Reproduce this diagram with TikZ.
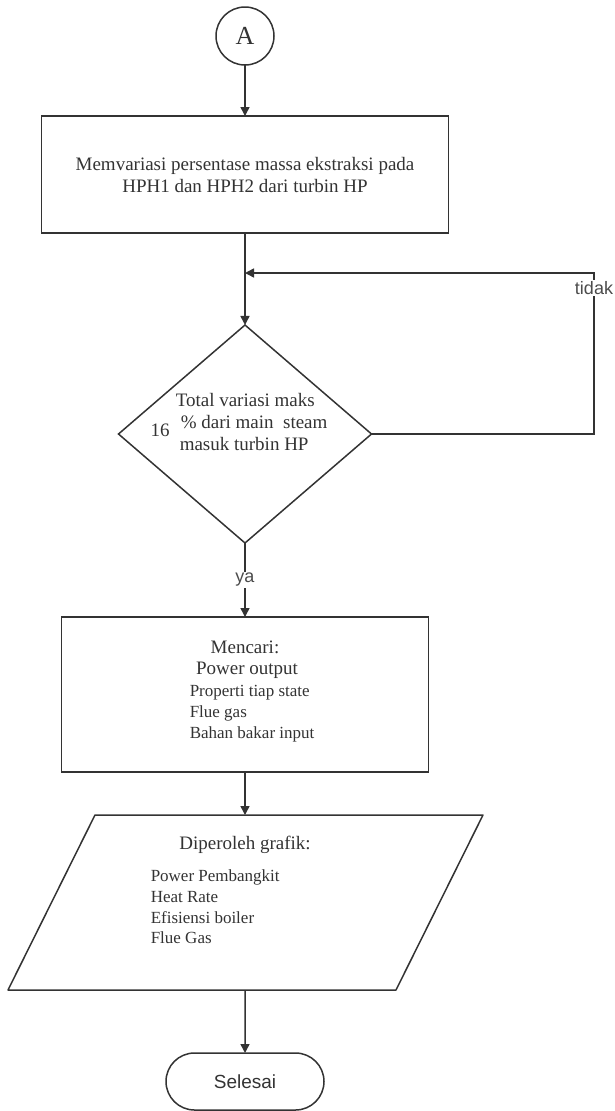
\documentclass[tikz,border=0pt]{standalone}
\usepackage{fontspec}
\setmainfont{Liberation Serif}
\newfontfamily\arialfont{Liberation Sans}
\usetikzlibrary{shapes.geometric,shapes.misc,arrows.meta}

\begin{document}
\begin{tikzpicture}[x=1pt,y=-1pt,line width=1.5pt,color=black!80,
  box/.style={draw,rectangle,inner sep=0pt,outer sep=0pt},
  txt/.style={font=\fontsize{19}{22}\selectfont,inner sep=0pt},
  sml/.style={font=\fontsize{17}{21}\selectfont,align=left,anchor=west,inner sep=0pt},
  lbl/.style={font=\arialfont\fontsize{18}{20}\selectfont,text=black!70,fill=white,inner sep=1.5pt},
  arr/.style={-{Triangle[width=9pt,length=9pt]}}]
\useasboundingbox (0,0) rectangle (614,1111);
\node[draw,circle,minimum size=58pt,inner sep=0pt,outer sep=0pt,font=\fontsize{26}{26}\selectfont] (a) at (245,36) {A};
\node[box,txt,align=center,minimum width=407pt,minimum height=117pt] (variasi) at (245,174.5) {Memvariasi persentase massa ekstraksi pada\\HPH1 dan HPH2 dari turbin HP};
\node[draw,diamond,minimum width=253pt,minimum height=218pt,inner sep=0pt,outer sep=0pt] (cek) at (245,434) {};
\node[txt,align=left,anchor=west] (cektxt) at (175,422) {Total variasi maks\\\hspace*{5pt}\% dari main\ \ steam\\\hspace*{4pt}masuk turbin HP};
\node[txt] (batas) at (160,430) {16};
\node[box,minimum width=367pt,minimum height=155pt] (cari) at (245,694.5) {};
\node[txt] (caritxt) at (245,647) {Mencari:};
\node[txt] (power) at (247,670) {Power output};
\node[sml] (carilist) at (189,714) {Properti tiap state\\Flue gas\\Bahan bakar input};
\coordinate (grafikatas) at (245,815);
\coordinate (grafikbawah) at (245,990);
\draw[line join=round] (95,815) -- (483,815) -- (396,990) -- (8,990) -- cycle;
\node[txt] (grafiktxt) at (245,845) {Diperoleh grafik:};
\node[sml,font=\fontsize{17}{20.7}\selectfont] (grafiklist) at (150,907) {Power Pembangkit\\Heat Rate\\Efisiensi boiler\\Flue Gas};
\node[draw,rounded rectangle,minimum width=158pt,minimum height=57pt,inner sep=0pt,outer sep=0pt,
  font=\arialfont\fontsize{19}{20}\selectfont] (selesai) at (245,1081.5) {Selesai};
\coordinate (gabung) at (245,273);
\coordinate (balik) at (594,273);
\draw[arr] (a) -- (variasi);
\draw[arr] (variasi) -- (cek);
\draw[arr] (cek.east) -| node[lbl,pos=0.953] {tidak} (balik) -- (gabung);
\draw[arr] (cek) -- node[lbl] {ya} (cari);
\draw[arr] (cari) -- (grafikatas);
\draw[arr] (grafikbawah) -- (selesai);
\end{tikzpicture}
\end{document}
